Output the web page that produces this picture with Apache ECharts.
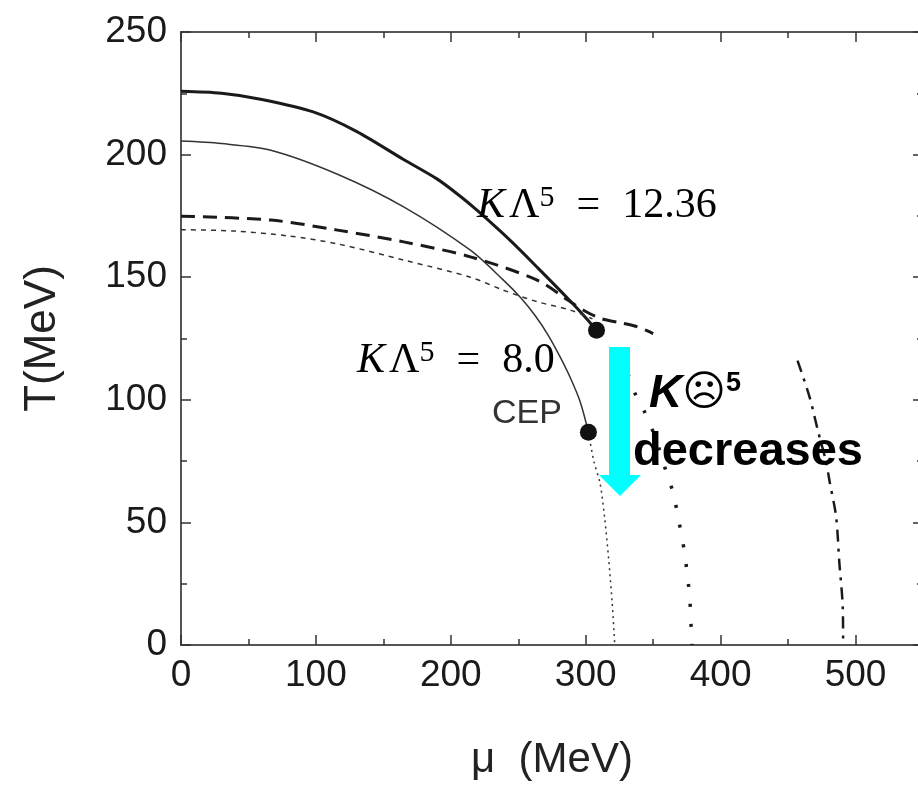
<!DOCTYPE html>
<html>
<head>
<meta charset="utf-8">
<script src="https://cdn.jsdelivr.net/npm/echarts@6/dist/echarts.min.js"></script>
<style>
html,body{margin:0;padding:0;background:#fff;}
#chart{width:918px;height:788px;}
</style>
</head>
<body>
<div id="chart"></div>
<script>
// ---- data (mu in MeV, T in MeV) ----
const xTicks = [0, 100, 200, 300, 400, 500];
const yTicks = [0, 50, 100, 150, 200, 250];

const solidK1236 = [[0,225.8],[30,225],[60,222.5],[98,217.4],[130,209.5],[165,198],[190,190],[207,183],[220,177],[244,165],[265,153.5],[288,140.6],[300,133.5],[308,128.4]];
const solidK80 = [[0,205.5],[30,204.5],[66.6,201.8],[116,192],[165,178.7],[214.5,161],[239,148.8],[252,141.5],[263,134],[272,126.5],[281,117.5],[289,108.5],[296,99],[302,86.8]];
const dottedK80 = [[302,86.8],[306,75],[310.6,66],[314,52],[317,35],[319.5,18],[321,5],[321.5,0]];
const dashedThick = [[0,174.9],[66.6,173.3],[116,169.2],[165,164.4],[214.5,158.3],[264,148.8],[287,140.6],[300,136],[312,133],[325,131.5],[337,130],[350,127]];
const dashedThin = [[0,169.4],[40,168.8],[80,166.8],[116,163.6],[165,157],[214.5,150],[239,144.7],[264,140],[288.5,136.6],[305,133]];
const dotCurve = [[325,118],[331,111],[336.5,102.7],[344,94.6],[352,84],[360,70],[364.8,62],[371,44.8],[373.5,36.7],[377,19.7],[378.4,3.4],[378.6,0]];
const dashDotCurve = [[457,116],[466,101],[472,87.6],[478,75],[481,66],[485.6,52.3],[488,33.4],[490.5,15.6],[490.8,0]];
const cepPoints = [[308,128.4],[302,86.8]];

const chart = echarts.init(document.getElementById('chart'), null, {renderer:'canvas'});

const axisCommon = {
  type:'value',
  axisLine:{show:true, onZero:false, lineStyle:{color:'#555', width:2}},
  axisTick:{show:true, inside:true, length:10, lineStyle:{color:'#333', width:1.5}},
  minorTick:{show:true, splitNumber:2, length:6, lineStyle:{color:'#333', width:1.5}},
  splitLine:{show:false},
  minorSplitLine:{show:false}
};

function lineSeries(data, width, type, color, smooth){
  return {type:'line', data:data, showSymbol:false, symbol:'none', smooth:smooth===undefined?0.3:smooth,
    lineStyle:{width:width, type:type, color:color}, z:3, silent:true, animation:false};
}

const serif = '"Liberation Serif", "Times New Roman", serif';
const sans = '"Liberation Sans", Arial, sans-serif';

function mathRich(){
  return {
    k:{fontFamily:serif, fontStyle:'italic', fontSize:42, fill:'#000', lineHeight:46},
    l:{fontFamily:serif, fontSize:42, fill:'#000', lineHeight:46, padding:[0,0,0,4]},
    s:{fontFamily:serif, fontSize:30, fill:'#000', verticalAlign:'top', lineHeight:28},
    e:{fontFamily:serif, fontSize:42, fill:'#000', lineHeight:46, padding:[0,22,0,22]},
    n:{fontFamily:serif, fontSize:42, fill:'#000', lineHeight:46}
  };
}

const option = {
  backgroundColor:'#fff',
  animation:false,
  grid:{left:181, top:32, width:742, height:613, containLabel:false, outerBoundsMode:'none'},
  xAxis:[
    Object.assign({}, axisCommon, {
      position:'bottom', min:0, max:550, interval:100,
      name:'μ  (MeV)', nameLocation:'middle', nameGap:94,
      nameTextStyle:{fontFamily:sans, fontSize:42, color:'#222'},
      axisLabel:{show:true, margin:12, fontFamily:sans, fontSize:37, color:'#1a1a1a',
        formatter:function(v){return xTicks.indexOf(v)>=0 ? String(v) : '';}}
    }),
    Object.assign({}, axisCommon, {
      position:'top', min:0, max:550, interval:100, axisLabel:{show:false}
    })
  ],
  yAxis:[
    Object.assign({}, axisCommon, {
      position:'left', min:0, max:250, interval:50,
      name:'T(MeV)', nameLocation:'middle', nameGap:116, nameRotate:90,
      nameTextStyle:{fontFamily:sans, fontSize:44, color:'#222'},
      axisLabel:{show:true, margin:14, fontFamily:sans, fontSize:37, color:'#1a1a1a',
        formatter:function(v){return yTicks.indexOf(v)>=0 ? String(v) : '';}}
    }),
    Object.assign({}, axisCommon, {
      position:'right', min:0, max:250, interval:50, axisLabel:{show:false}
    })
  ],
  series:[
    lineSeries(solidK1236, 3, 'solid', '#1a1a1a'),
    lineSeries(solidK80, 1.5, 'solid', '#333'),
    lineSeries(dottedK80, 1.5, [2,4], '#333'),
    lineSeries(dashedThick, 3, [14,8], '#1a1a1a'),
    lineSeries(dashedThin, 1.5, [5,5], '#333'),
    lineSeries(dotCurve, 3.5, [3,17], '#1a1a1a'),
    lineSeries(dashDotCurve, 2.5, [12,7,3,7], '#1a1a1a'),
    {type:'scatter', data:cepPoints, symbol:'circle', symbolSize:17,
      itemStyle:{color:'#111', opacity:1}, z:5, silent:true, animation:false}
  ],
  graphic:[
    {type:'text', left:477, top:183, z:100, style:{
      text:'{k|K}{l|Λ}{s|5}{e|=}{n|12.36}', rich:mathRich()}},
    {type:'text', left:357, top:338, z:100, style:{
      text:'{k|K}{l|Λ}{s|5}{e|=}{n|8.0}', rich:mathRich()}},
    {type:'text', left:492, top:397, z:100, style:{
      text:'CEP', fontFamily:sans, fontSize:34, fill:'#333'}},
    {type:'rect', z:100, shape:{x:609, y:347, width:21, height:129}, style:{fill:'#00FFFF'}},
    {type:'polygon', z:100, shape:{points:[[599,475],[641,475],[620,496]]}, style:{fill:'#00FFFF'}},
    {type:'text', left:649, top:370, z:100, style:{
      text:'{k|K}{f|☹}{s|5}',
      rich:{
        k:{fontFamily:sans, fontStyle:'italic', fontWeight:'bold', fontSize:46, fill:'#000', lineHeight:48},
        f:{fontFamily:'"DejaVu Sans", sans-serif', fontSize:42, fill:'#000', lineHeight:48},
        s:{fontFamily:sans, fontWeight:'bold', fontSize:27, fill:'#000', verticalAlign:'top', lineHeight:26}
      }}},
    {type:'text', left:633, top:429, z:100, style:{
      text:'decreases', fontFamily:sans, fontWeight:'bold', fontSize:47, fill:'#000'}}
  ]
};
chart.setOption(option);
</script>
</body>
</html>
